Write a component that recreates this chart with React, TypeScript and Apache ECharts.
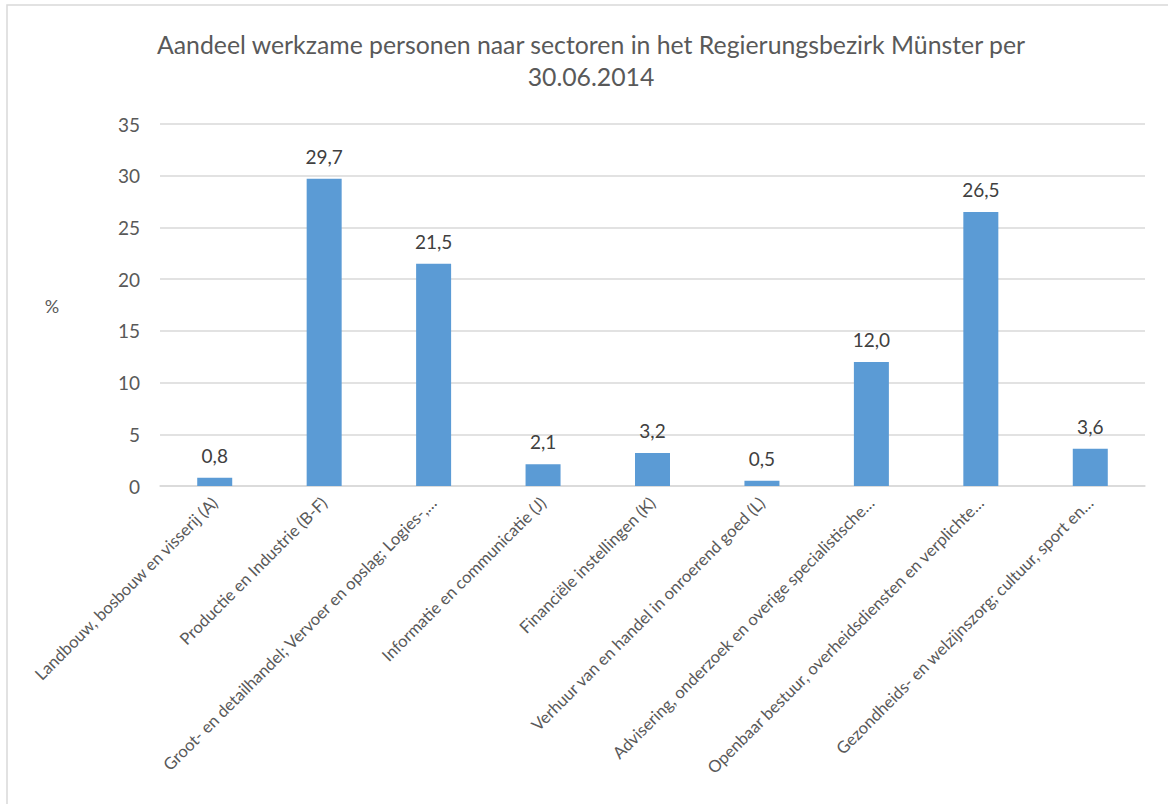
import React, { useEffect, useRef } from "react";
import * as echarts from "echarts";

const titleLines = [
  "Aandeel werkzame personen naar sectoren in het Regierungsbezirk Münster per",
  "30.06.2014",
];

const categories = [
  "Landbouw, bosbouw en visserij (A)",
  "Productie en Industrie (B-F)",
  "Groot- en detailhandel; Vervoer en opslag; Logies-,…",
  "Informatie en communicatie (J)",
  "Financiële instellingen (K)",
  "Verhuur van en handel in onroerend goed (L)",
  "Advisering, onderzoek en overige specialistische…",
  "Openbaar bestuur, overheidsdiensten en verplichte…",
  "Gezondheids- en welzijnszorg; cultuur, sport en…",
];

const values = [0.8, 29.7, 21.5, 2.1, 3.2, 0.5, 12.0, 26.5, 3.6];

const yTicks = { min: 0, max: 35, interval: 5 };
const yUnit = "%";

const FONT = "Lato, 'Open Sans', sans-serif";

export default function App() {
  const ref = useRef<HTMLDivElement>(null);
  useEffect(() => {
    if (!ref.current) return;
    const chart = echarts.init(ref.current, undefined, { renderer: "svg" });
    chart.setOption({
      animation: false,
      backgroundColor: "#ffffff",
      textStyle: { fontFamily: FONT },
      grid: { left: 160, right: 23, top: 124, bottom: 318, containLabel: false },
      graphic: [
        {
          type: "rect",
          shape: { x: 7, y: 5, width: 1300, height: 1000 },
          style: { fill: "none", stroke: "#d9d9d9", lineWidth: 1.5 },
          silent: true,
        },
        {
          type: "text",
          x: 591,
          y: 44,
          style: {
            text: titleLines[0],
            fontFamily: FONT,
            fontSize: 24.8,
            fill: "#595959",
            textAlign: "center",
            textVerticalAlign: "middle",
          },
        },
        {
          type: "text",
          x: 591,
          y: 76,
          style: {
            text: titleLines[1],
            fontFamily: FONT,
            fontSize: 24.8,
            fill: "#595959",
            textAlign: "center",
            textVerticalAlign: "middle",
          },
        },
        {
          type: "text",
          x: 52,
          y: 306,
          style: {
            text: yUnit,
            fontFamily: FONT,
            fontSize: 18,
            fill: "#595959",
            textAlign: "center",
            textVerticalAlign: "middle",
          },
        },
      ],
      xAxis: {
        type: "category",
        data: categories,
        axisLine: { show: true, lineStyle: { color: "#d9d9d9", width: 1.5 } },
        axisTick: { show: false },
        axisLabel: {
          rotate: 45,
          interval: 0,
          margin: 14,
          padding: [24, 0, 0, 0],
          color: "#595959",
          fontSize: 16.6,
          fontFamily: FONT,
        },
      },
      yAxis: {
        type: "value",
        min: yTicks.min,
        max: yTicks.max,
        interval: yTicks.interval,
        axisLine: { show: false },
        axisTick: { show: false },
        axisLabel: { color: "#595959", fontSize: 19, margin: 20, fontFamily: FONT },
        splitLine: { lineStyle: { color: "#d9d9d9", width: 1.5 } },
      },
      series: [
        {
          type: "bar",
          data: values,
          barWidth: 35,
          itemStyle: { color: "#5b9bd5" },
          label: {
            show: true,
            position: "top",
            distance: 13,
            color: "#404040",
            fontSize: 19,
            fontFamily: FONT,
            formatter: (p: any) => Number(p.value).toFixed(1).replace(".", ","),
          },
        },
      ],
    });
    return () => chart.dispose();
  }, []);
  return (
    <div
      ref={ref}
      style={{ position: "absolute", left: 0, top: 0, width: 1168, height: 804 }}
    />
  );
}
